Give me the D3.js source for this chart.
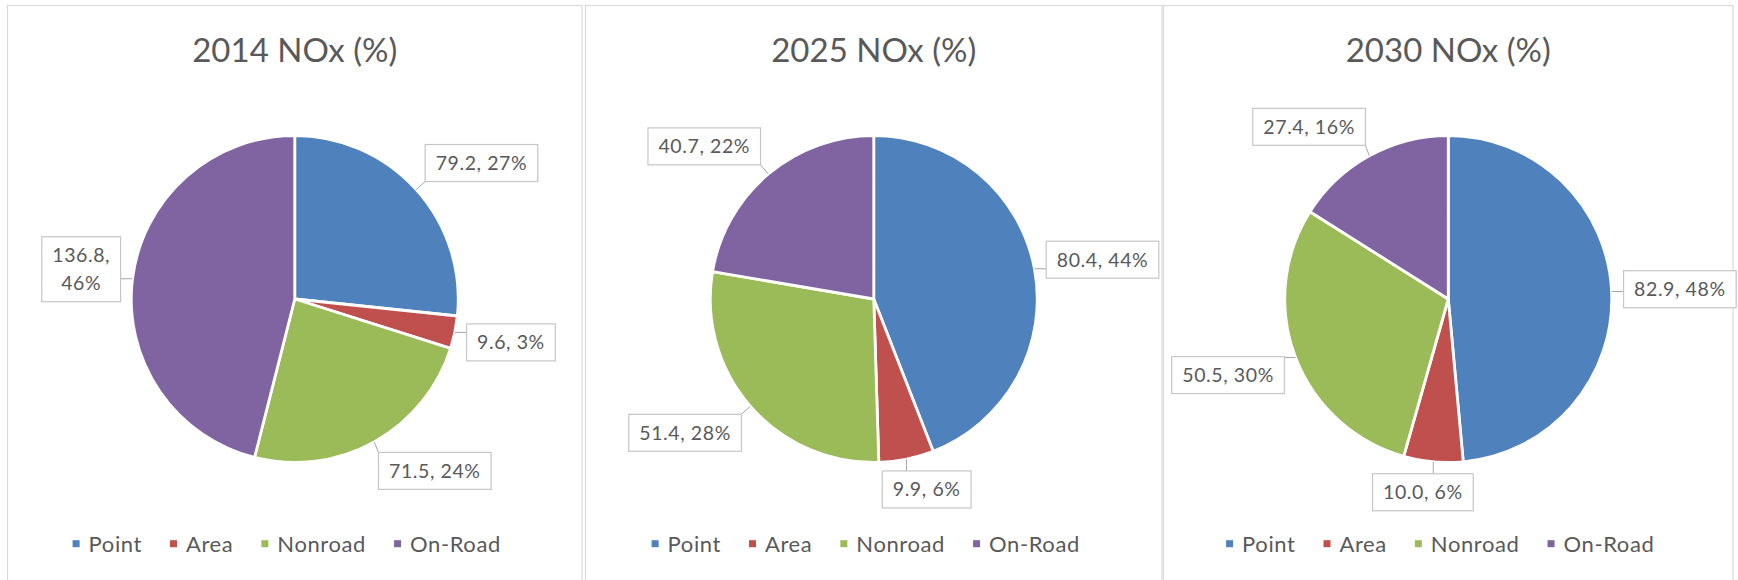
<!DOCTYPE html>
<html>
<head>
<meta charset="utf-8">
<script src="https://cdn.jsdelivr.net/npm/d3@7"></script>
<style>
  body { margin: 0; background: #fff; }
  svg { display: block; font-family: Lato, "Open Sans", sans-serif; }
</style>
</head>
<body>
<svg></svg>
<script>
const width = 1738;
const height = 580;

/* chart data */
const categories = ['Point', 'Area', 'Nonroad', 'On-Road'];
const titles = ['2014 NOx (%)', '2025 NOx (%)', '2030 NOx (%)'];
const nox2014 = [79.2, 9.6, 71.5, 136.8];
const nox2025 = [80.4, 9.9, 51.4, 40.7];
const nox2030 = [82.9, 10.0, 50.5, 27.4];
const pct2014 = [27, 3, 24, 46];
const pct2025 = [44, 6, 28, 22];
const pct2030 = [48, 6, 30, 16];

const palette = ['#4F81BD', '#C0504D', '#9BBB59', '#8064A2'];
const textColor = '#595959';

/* layout */
const panelEdges = [[7.5, 582], [585.5, 1162], [1163.5, 1733]];
const pieY = 299;
const radius = 163.5;
const labelGap = 12;
const labelFont = 19.5;
const lineH = 28;
const maxLabelWidth = 92;

const svg = d3.select('svg')
  .attr('width', width)
  .attr('height', height);

const color = d3.scaleOrdinal().domain(categories).range(palette);

const pie = d3.pie()
  .sort(null)
  .value(d => d.value);

const arc = d3.arc()
  .innerRadius(0)
  .outerRadius(radius);

const charts = [
  { title: titles[0], values: nox2014, pcts: pct2014 },
  { title: titles[1], values: nox2025, pcts: pct2025 },
  { title: titles[2], values: nox2030, pcts: pct2030 }
];

/* pushes a label box away from the slice, like excel's best fit */
const soft = v => Math.max(-1, Math.min(1, 2 * v));

charts.forEach((chart, i) => {
  const [x0, x1] = panelEdges[i];
  const cx = (x0 + x1) / 2;

  const panel = svg.append('g').classed('panel', true);

  panel.append('rect')
    .attr('x', x0)
    .attr('y', 5.5)
    .attr('width', x1 - x0)
    .attr('height', 600)
    .attr('fill', '#fff')
    .attr('stroke', '#d9d9d9')
    .attr('stroke-width', 1.2);

  /* title */
  panel.append('text')
    .attr('x', cx)
    .attr('y', 61.7)
    .attr('text-anchor', 'middle')
    .attr('font-size', 33)
    .attr('fill', textColor)
    .text(chart.title);

  const data = categories.map((c, k) => ({ name: c, value: chart.values[k], pct: chart.pcts[k] }));
  const arcs = pie(data);

  const pieG = panel.append('g')
    .attr('transform', `translate(${cx}, ${pieY})`);

  pieG.selectAll('path.slice')
    .data(arcs)
    .join('path')
      .classed('slice', true)
      .attr('d', arc)
      .attr('fill', d => color(d.data.name))
      .attr('stroke', '#fff')
      .attr('stroke-width', 2.8)
      .attr('stroke-linejoin', 'round');

  /* data labels */
  const leaders = pieG.append('g');
  arcs.forEach(d => {
    const a = (d.startAngle + d.endAngle) / 2;
    const sx = Math.sin(a);
    const sy = -Math.cos(a);

    const lbl = pieG.append('g');
    const box = lbl.append('rect');
    const txt = lbl.append('text')
      .attr('font-size', labelFont)
      .attr('letter-spacing', 0.6)
      .attr('fill', textColor)
      .attr('text-anchor', 'middle');

    let lines = [`${d.data.value.toFixed(1)}, ${d.data.pct}%`];
    txt.text(lines[0]);
    if (txt.node().getComputedTextLength() > maxLabelWidth) {
      lines = [`${d.data.value.toFixed(1)},`, `${d.data.pct}%`];
    }
    txt.text(null);
    lines.forEach((l, j) => {
      txt.append('tspan').attr('x', 0).attr('y', j * lineH).text(l);
    });
    const tw = d3.max(txt.selectAll('tspan').nodes(), n => n.getComputedTextLength());

    const w = tw + 21;
    const h = 9 + lineH * lines.length;
    const px = (radius + labelGap) * sx;
    const py = (radius + labelGap) * sy;
    const bx = px + soft(sx) * w / 2;
    const by = py + soft(sy) * h / 2;
    const left = bx - w / 2;
    const top = by - h / 2;

    box.attr('x', left)
      .attr('y', top)
      .attr('width', w)
      .attr('height', h)
      .attr('fill', '#fff')
      .attr('stroke', '#c6c6c6')
      .attr('stroke-width', 1.2);

    txt.attr('transform', `translate(${bx}, ${top + 25.5})`);

    /* leader line from slice edge to nearest point of the box */
    const ex = radius * sx;
    const ey = radius * sy;
    const nx = Math.max(left, Math.min(left + w, ex));
    const ny = Math.max(top, Math.min(top + h, ey));
    if (Math.hypot(nx - ex, ny - ey) > 3) {
      leaders.append('line')
        .attr('x1', ex).attr('y1', ey)
        .attr('x2', nx).attr('y2', ny)
        .attr('stroke', '#a6a6a6')
        .attr('stroke-width', 1);
    }
  });

  /* legend */
  const legend = panel.append('g');
  let lx = 0;
  categories.forEach(c => {
    const item = legend.append('g').attr('transform', `translate(${lx}, 0)`);
    item.append('rect')
      .attr('x', 0)
      .attr('y', -3.5)
      .attr('width', 7)
      .attr('height', 7)
      .attr('fill', color(c));
    const t = item.append('text')
      .attr('x', 16)
      .attr('y', 8)
      .attr('font-size', 22)
      .attr('letter-spacing', 0.6)
      .attr('fill', textColor)
      .text(c);
    lx += 16 + t.node().getComputedTextLength() + 28;
  });
  const legendW = lx - 28 + 16;
  legend.attr('transform', `translate(${cx - legendW / 2}, 543.7)`);
});
</script>
</body>
</html>
